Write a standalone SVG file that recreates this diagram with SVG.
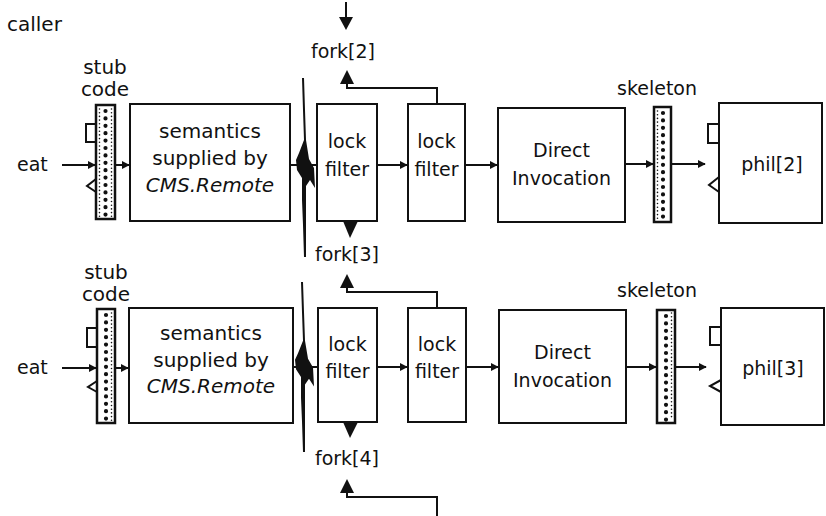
<svg xmlns="http://www.w3.org/2000/svg" width="826" height="516" viewBox="0 0 826 516">
<style>
text{font-family:"DejaVu Sans","Liberation Sans",sans-serif;font-size:19px;fill:#111}
.c{text-anchor:middle}
.s20{font-size:20px}
.it{font-style:italic}
.box{fill:#fff;stroke:#111;stroke-width:2}
.bar{fill:#fff;stroke:#111;stroke-width:2.5}
.ln{fill:none;stroke:#111;stroke-width:2}
.dot{stroke:#111;stroke-width:4.2;stroke-linecap:round;stroke-dasharray:0 7.4}
.edge{stroke:#111;stroke-width:1.6;stroke-linecap:round;stroke-dasharray:0 3.7}
.hd{fill:#111}
</style>
<defs>
<marker id="ah" viewBox="0 0 10 10" refX="9" refY="5" markerWidth="8" markerHeight="8" markerUnits="userSpaceOnUse" orient="auto">
<path d="M0,0 L10,5 L0,10 z" fill="#111"/>
</marker>
<g id="bolt">
<polygon class="hd" points="302,78 303,110 304,140 299,153 296,160 297,170 302,178 302,200 303,225 304,257 306,257 306,225 306,200 306,186 310,180 315,188 314,168 309,159 306,140 305,110 304,78"/>
</g>
</defs>

<text x="7" y="31" class="s20">caller</text>

<!-- Row 1 -->
<g id="stub1">
<text x="105" y="74" class="c s20">stub</text>
<text x="105" y="96" class="c s20">code</text>
<rect class="bar" x="96" y="105" width="19" height="114"/>
<line class="dot" x1="105.5" y1="111" x2="105.5" y2="216"/>
<line class="edge" x1="99.5" y1="109" x2="99.5" y2="217"/>
<line class="edge" x1="111.5" y1="109" x2="111.5" y2="217"/>
<polyline class="ln" points="96,124 86,124 86,142 96,142"/>
<polyline class="ln" points="96,179 87,186 96,192"/>
</g>
<g id="sem1">
<rect class="box" x="130" y="104" width="160" height="117"/>
<text x="210" y="138" class="c s20">semantics</text>
<text x="210" y="165" class="c s20">supplied by</text>
<text x="210" y="192" class="c s20 it">CMS.Remote</text>
</g>
<g id="lf1a">
<rect class="box" x="317" y="104" width="60" height="117"/>
<text x="347" y="148" class="c">lock</text>
<text x="347" y="176" class="c">filter</text>
</g>
<g id="lf1b">
<rect class="box" x="408" y="104" width="57" height="117"/>
<text x="436.5" y="148" class="c">lock</text>
<text x="436.5" y="176" class="c">filter</text>
</g>
<g id="di1">
<rect class="box" x="498" y="108" width="127" height="114"/>
<text x="561.5" y="157" class="c">Direct</text>
<text x="561.5" y="185" class="c">Invocation</text>
</g>
<g id="skel1">
<text x="657" y="95" class="c">skeleton</text>
<rect class="bar" x="654" y="107" width="17" height="115"/>
<line class="dot" x1="663" y1="113" x2="663" y2="219"/>
<line class="edge" x1="657.5" y1="111" x2="657.5" y2="219"/>
</g>
<g id="phil2">
<rect class="box" x="719" y="103" width="103" height="120"/>
<polyline class="ln" points="719,124 708,124 708,143 719,143"/>
<polyline class="ln" points="719,177 709,185 719,192"/>
<text x="772" y="171" class="c">phil[2]</text>
</g>

<!-- Row 2 -->
<g id="stub2">
<text x="106" y="279" class="c s20">stub</text>
<text x="106" y="301" class="c s20">code</text>
<rect class="bar" x="97" y="309" width="18" height="114"/>
<line class="dot" x1="106" y1="315" x2="106" y2="420"/>
<line class="edge" x1="111.5" y1="313" x2="111.5" y2="421"/>
<polyline class="ln" points="97,328 87,328 87,347 97,347"/>
<polyline class="ln" points="97,381 88,387 97,392"/>
</g>
<g id="sem2">
<rect class="box" x="129" y="308" width="164" height="115"/>
<text x="211" y="340" class="c s20">semantics</text>
<text x="211" y="367" class="c s20">supplied by</text>
<text x="211" y="393" class="c s20 it">CMS.Remote</text>
</g>
<g id="lf2a">
<rect class="box" x="318" y="308" width="59" height="114"/>
<text x="347.5" y="351" class="c">lock</text>
<text x="347.5" y="378" class="c">filter</text>
</g>
<g id="lf2b">
<rect class="box" x="408" y="308" width="58" height="114"/>
<text x="437" y="351" class="c">lock</text>
<text x="437" y="378" class="c">filter</text>
</g>
<g id="di2">
<rect class="box" x="499" y="310" width="127" height="113"/>
<text x="562.5" y="359" class="c">Direct</text>
<text x="562.5" y="387" class="c">Invocation</text>
</g>
<g id="skel2">
<text x="657" y="297" class="c">skeleton</text>
<rect class="bar" x="657" y="310" width="18" height="113"/>
<line class="dot" x1="666" y1="316" x2="666" y2="420"/>
<line class="edge" x1="671.5" y1="313" x2="671.5" y2="420"/>
</g>
<g id="phil3">
<rect class="box" x="721" y="308" width="103" height="117"/>
<polyline class="ln" points="721,327 710,327 710,345 721,345"/>
<polyline class="ln" points="721,380 710,386 721,392"/>
<text x="773" y="375" class="c">phil[3]</text>
</g>

<g id="labels">
<text x="17" y="171">eat</text>
<text x="17" y="374">eat</text>
<text x="343" y="58" class="c">fork[2]</text>
<text x="347" y="261" class="c">fork[3]</text>
<text x="347" y="465" class="c">fork[4]</text>
</g>

<g id="connectors">
<!-- row 1 flow -->
<line class="ln" x1="62" y1="165" x2="95" y2="165" marker-end="url(#ah)"/>
<line class="ln" x1="115" y1="165" x2="129" y2="165" marker-end="url(#ah)"/>
<line class="ln" x1="290" y1="165" x2="317" y2="165"/>
<line class="ln" x1="377" y1="165" x2="407" y2="165" marker-end="url(#ah)"/>
<line class="ln" x1="465" y1="165" x2="497" y2="165" marker-end="url(#ah)"/>
<line class="ln" x1="625" y1="164" x2="653" y2="164" marker-end="url(#ah)"/>
<line class="ln" x1="671" y1="164" x2="705" y2="164" marker-end="url(#ah)"/>
<!-- row 1 forks -->
<line class="ln" x1="346" y1="2" x2="346" y2="18"/>
<polygon class="hd" points="339,17 353,17 346,30"/>
<polyline class="ln" points="437,104 437,88 347,88 347,82"/>
<polygon class="hd" points="340,84 354,84 347,70"/>
<polygon class="hd" points="343,221 358,221 350,238"/>
<use href="#bolt"/>
<!-- row 2 flow -->
<line class="ln" x1="62" y1="368" x2="96" y2="368" marker-end="url(#ah)"/>
<line class="ln" x1="115" y1="368" x2="128" y2="368" marker-end="url(#ah)"/>
<line class="ln" x1="293" y1="367" x2="318" y2="367"/>
<line class="ln" x1="377" y1="367" x2="407" y2="367" marker-end="url(#ah)"/>
<line class="ln" x1="466" y1="367" x2="498" y2="367" marker-end="url(#ah)"/>
<line class="ln" x1="626" y1="367" x2="656" y2="367" marker-end="url(#ah)"/>
<line class="ln" x1="675" y1="367" x2="706" y2="367" marker-end="url(#ah)"/>
<!-- row 2 forks -->
<polyline class="ln" points="437,308 437,292 347,292 347,287"/>
<polygon class="hd" points="340,288 354,288 347,274"/>
<polygon class="hd" points="343,422 358,422 350,438"/>
<use href="#bolt" transform="translate(-1,204) scale(1,0.95) translate(0,4)"/>
<polyline class="ln" points="437,516 437,497 347,497 347,492"/>
<polygon class="hd" points="340,493 354,493 347,479"/>
</g>
</svg>
